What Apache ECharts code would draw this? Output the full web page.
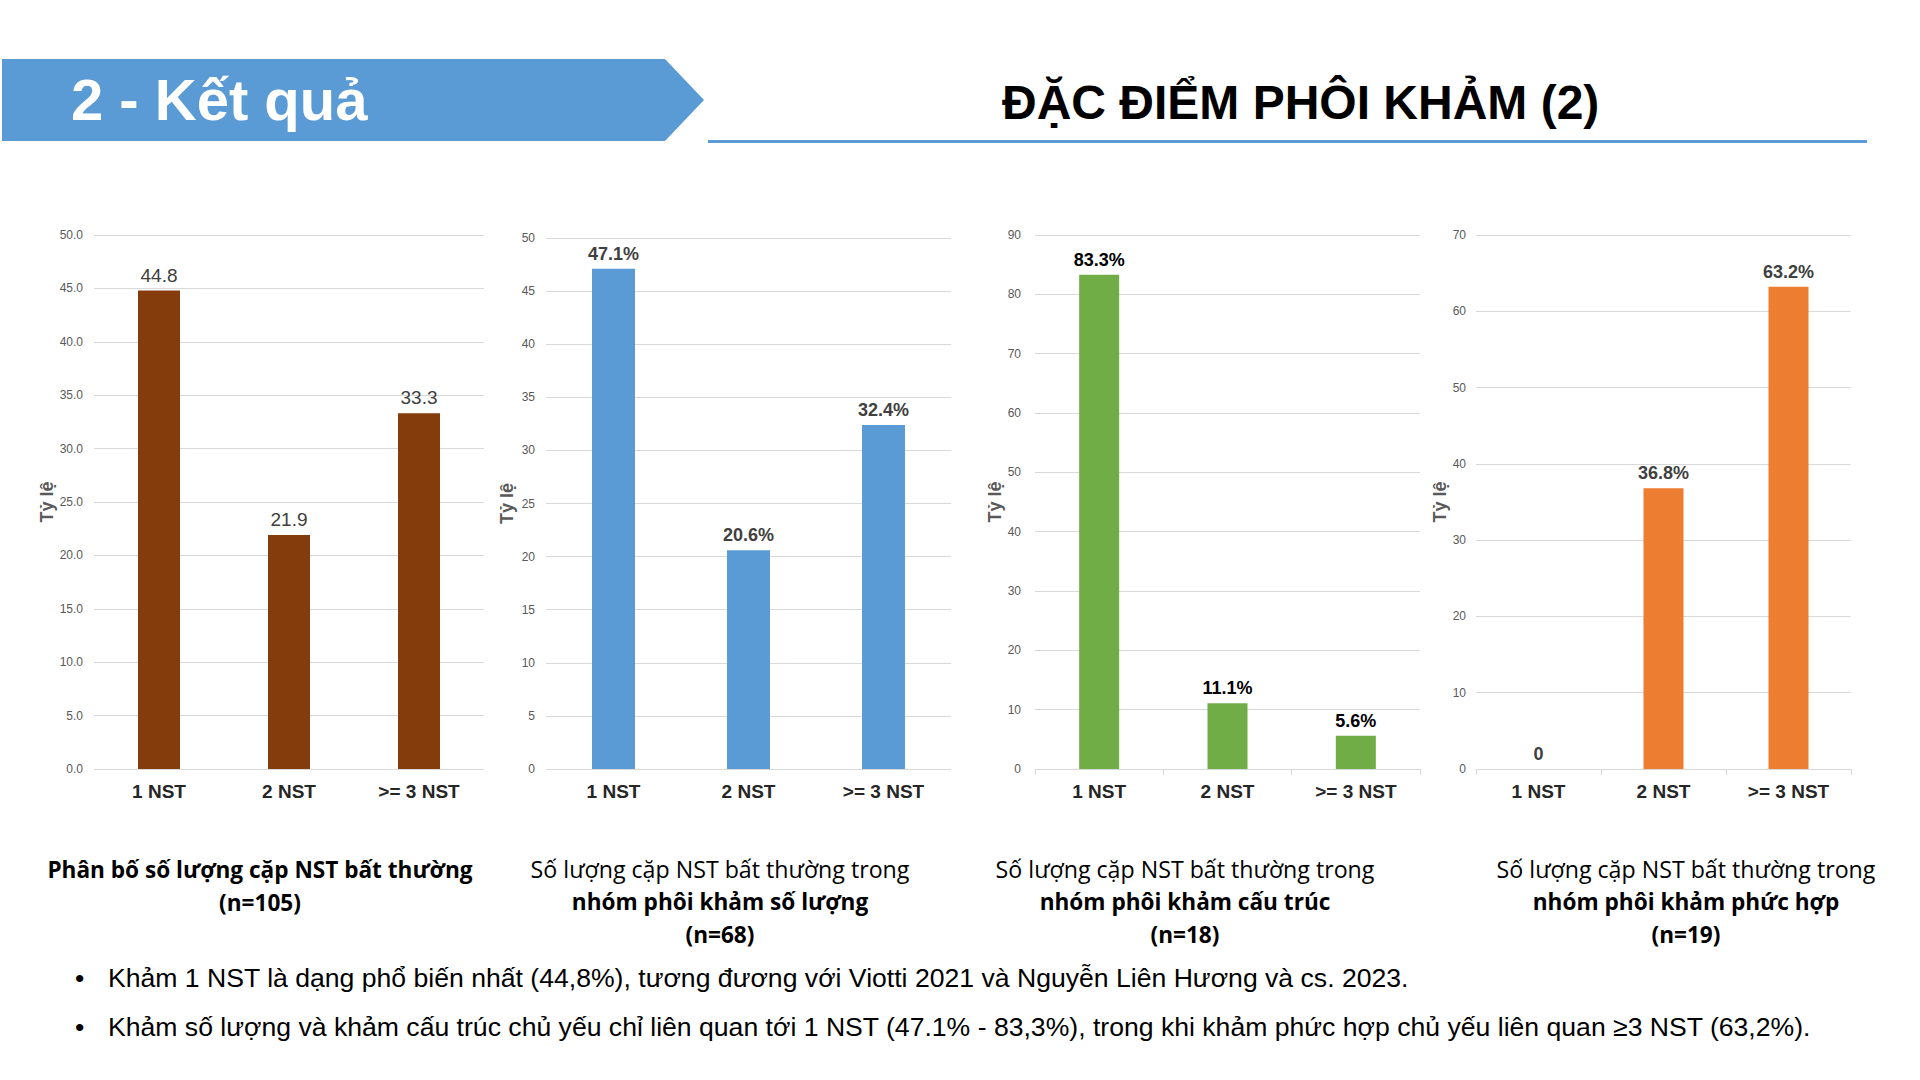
<!DOCTYPE html>
<html>
<head>
<meta charset="utf-8">
<title>Đặc điểm phôi khảm (2)</title>
<script src="https://cdn.jsdelivr.net/npm/echarts@6/dist/echarts.min.js"></script>
<style>
  html, body { margin:0; padding:0; background:#fff; }
  #page { position:relative; width:1920px; height:1080px; overflow:hidden; font-family:"Liberation Sans", Arial, sans-serif; }
  #main { position:absolute; left:0; top:0; width:1920px; height:1080px; }
  .banner { position:absolute; left:2px; top:59px; width:702px; height:82px; background:#5B9BD5;
            clip-path:polygon(0 0, 663px 0, 702px 41px, 663px 82px, 0 82px); }
  .banner span { position:absolute; left:69px; top:0; line-height:82px; font-size:58px; font-weight:bold; color:#fff; }
  .title { position:absolute; left:1002px; top:73px; font-size:48px; font-weight:bold; color:#000; line-height:60px; white-space:nowrap; }
  .rule { position:absolute; left:708px; top:140px; width:1159px; height:3px; background:#5B9BD5; }
  .cap { position:absolute; top:853px; width:480px; margin-left:-240px; text-align:center;
         font-family:"Open Sans", sans-serif; font-size:23.2px; line-height:32px; color:#000; }
  .cap b { font-weight:bold; font-size:22.6px; }
  .bullets { position:absolute; left:75px; top:959px; font-size:26.6px; color:#000; }
  .bullets div { position:relative; padding-left:33px; height:49px; line-height:38px; white-space:nowrap; }
  .bullets div:before { content:"\2022"; position:absolute; left:0; top:0; }
</style>
</head>
<body>
<div id="page">
  <div id="main"></div>
  <div class="banner"><span>2 - Kết quả</span></div>
  <div class="title">ĐẶC ĐIỂM PHÔI KHẢM (2)</div>
  <div class="rule"></div>
  <div class="cap" style="left:260px"><b>Phân bố số lượng cặp NST bất thường<br>(n=105)</b></div>
  <div class="cap" style="left:720px">Số lượng cặp NST bất thường trong<br><b>nhóm phôi khảm số lượng<br>(n=68)</b></div>
  <div class="cap" style="left:1185px">Số lượng cặp NST bất thường trong<br><b>nhóm phôi khảm cấu trúc<br>(n=18)</b></div>
  <div class="cap" style="left:1686px">Số lượng cặp NST bất thường trong<br><b>nhóm phôi khảm phức hợp<br>(n=19)</b></div>
  <div class="bullets">
    <div>Khảm 1 NST là dạng phổ biến nhất (44,8%), tương đương với Viotti 2021 và Nguyễn Liên Hương và cs. 2023.</div>
    <div>Khảm số lượng và khảm cấu trúc chủ yếu chỉ liên quan tới 1 NST (47.1% - 83,3%), trong khi khảm phức hợp chủ yếu liên quan ≥3 NST (63,2%).</div>
  </div>
</div>
<script>
// categories and values (%) per group
var categories = ['1 NST', '2 NST', '>= 3 NST'];
var valuesAll = [44.8, 21.9, 33.3];        // n=105
var valuesSoLuong = [47.1, 20.6, 32.4];    // n=68
var valuesCauTruc = [83.3, 11.1, 5.6];     // n=18
var valuesPhucHop = [0, 36.8, 63.2];       // n=19

// y axis ranges
var yMax = [50, 50, 90, 70];
var yStep = [5, 5, 10, 10];

var seriesData = [valuesAll, valuesSoLuong, valuesCauTruc, valuesPhucHop];
var barColors = ['#843C0C', '#5B9BD5', '#70AD47', '#ED7D31'];
var labelColors = ['#404040', '#404040', '#000000', '#404040'];
var grids = [
  {left:94,   top:235, width:390, height:534},
  {left:546,  top:238, width:405, height:531},
  {left:1035, top:235, width:385, height:534},
  {left:1476, top:235, width:375, height:534}
];
var barWidths = [42, 43, 40, 40];
var nameGaps = [38, 30, 30, 27];
var labelMargins = [11, 11, 14, 10];

var option = {
  animation: false,
  textStyle: { fontFamily: '"Liberation Sans", Arial, sans-serif' },
  grid: [], xAxis: [], yAxis: [], series: []
};

for (var i = 0; i < 4; i++) {
  option.grid.push(grids[i]);
  var withTicks = i >= 2;   // the last two charts show the axis line with ticks
  option.xAxis.push({
    type: 'category',
    gridIndex: i,
    data: categories,
    axisLine: { show: withTicks, lineStyle: { color: '#D9D9D9', width: 1 } },
    axisTick: { show: withTicks, length: 6, lineStyle: { color: '#D9D9D9' } },
    axisLabel: { margin: 13, fontSize: 19, fontWeight: 'bold', color: '#262626' }
  });
  option.yAxis.push({
    type: 'value',
    gridIndex: i,
    min: 0,
    max: yMax[i],
    interval: yStep[i],
    name: 'Tỷ lệ',
    nameLocation: 'middle',
    nameGap: nameGaps[i],
    nameTextStyle: { fontSize: 18, fontWeight: 'bold', color: '#595959' },
    axisLine: { show: false },
    axisTick: { show: false },
    axisLabel: {
      margin: labelMargins[i], fontSize: 12, color: '#595959',
      formatter: i === 0 ? function (v) { return v.toFixed(1); } : '{value}'
    },
    splitLine: { lineStyle: { color: '#D9D9D9', width: 1 } }
  });
  option.series.push({
    type: 'bar',
    xAxisIndex: i,
    yAxisIndex: i,
    data: seriesData[i],
    barWidth: barWidths[i],
    itemStyle: { color: barColors[i] },
    label: {
      show: true,
      position: 'top',
      distance: 6,
      fontSize: i === 0 ? 19 : 18,
      fontWeight: i === 0 ? 'normal' : 'bold',
      color: labelColors[i],
      formatter: i === 0
        ? function (p) { return p.value.toFixed(1); }
        : function (p) { return p.value === 0 ? '0' : p.value.toFixed(1) + '%'; }
    }
  });
}

var myChart = echarts.init(document.getElementById('main'), null, { renderer: 'svg' });
myChart.setOption(option);
</script>
</body>
</html>
